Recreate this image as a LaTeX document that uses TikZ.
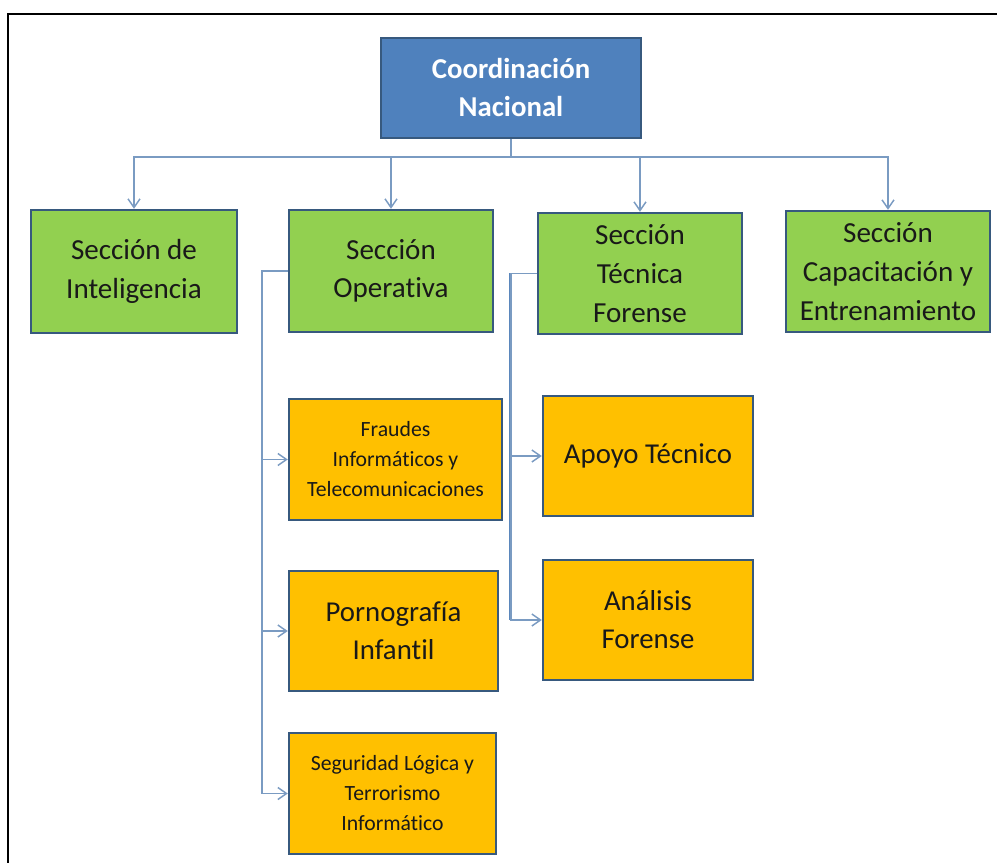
\documentclass[tikz,border=0pt]{standalone}
\usepackage{fontspec}
\setmainfont{Carlito}[Ligatures=NoCommon]
\usetikzlibrary{arrows.meta,calc}
\definecolor{cblue}{HTML}{4F81BD}
\definecolor{cbord}{HTML}{37597E}
\definecolor{cgreen}{HTML}{92D050}
\definecolor{corange}{HTML}{FFC000}
\definecolor{cline}{HTML}{7A9BC2}
\definecolor{ctrunk}{HTML}{5B87BC}
\tikzset{
  box/.style={draw=cbord, line width=1.8pt, rectangle, align=center, inner sep=0pt},
  topbox/.style={box, fill=cblue, text=white, font=\fontsize{21.6}{28.5}\selectfont\bfseries},
  secbox/.style={box, fill=cgreen, text=black!90, font=\fontsize{21.8}{29}\selectfont},
  subbox/.style={box, fill=corange, text=black!90, font=\fontsize{21.6}{28.5}\selectfont},
  smallbox/.style={box, fill=corange, text=black!90, font=\fontsize{16.3}{22.5}\selectfont},
  conn/.style={draw=cline, line width=1.1pt, -{Straight Barb[length=6.5pt,width=9pt]}},
  trunk/.style={draw=ctrunk, line width=2.2pt},
  frame/.style={draw=black, line width=2.2pt}
}
\begin{document}
\begin{tikzpicture}[x=0.75pt,y=-0.75pt]
\useasboundingbox (0,0) rectangle (997,863);
\draw[frame] (8,863) -- (8,14) -- (997,14);

\node[topbox, minimum width=195pt, minimum height=75pt] (coord) at (511,88) {Coordinación\\Nacional};

\node[secbox, minimum width=154.5pt, minimum height=92.25pt] (intel) at (134,271.5) {Sección de\\Inteligencia};
\node[secbox, minimum width=153pt, minimum height=91.5pt] (ope) at (391,271) {Sección\\Operativa};
\node[secbox, minimum width=153pt, minimum height=90.75pt] (tec) at (640,273.5) {Sección\\Técnica\\Forense};
\node[secbox, minimum width=153pt, minimum height=90.75pt] (cap) at (888,271.5) {Sección\\Capacitación y\\Entrenamiento};

\node[smallbox, minimum width=159.75pt, minimum height=90.75pt] (fraud) at (395.5,459.5) {Fraudes\\Informáticos y\\Telecomunicaciones};
\node[subbox, minimum width=156.75pt, minimum height=90pt] (porno) at (393.5,631) {Pornografía\\Infantil};
\node[smallbox, minimum width=155.25pt, minimum height=90.75pt] (segur) at (392.5,793.5) {Seguridad Lógica y\\Terrorismo\\Informático};
\node[subbox, minimum width=157.5pt, minimum height=90pt] (apoyo) at (648,456) {Apoyo Técnico};
\node[subbox, minimum width=157.5pt, minimum height=90pt] (anal) at (648,620) {Análisis\\Forense};

% top bus
\draw[conn] (coord.south) -- ++(0,18) -| (intel.north);
\draw[conn] (coord.south) -- ++(0,18) -| (ope.north);
\draw[conn] (coord.south) -- ++(0,18) -| (tec.north);
\draw[conn] (coord.south) -- ++(0,18) -| (cap.north);

% operativa branch
\draw[conn] (ope.west) -- ++(-26,0) |- (fraud.west);
\draw[conn] (ope.west) -- ++(-26,0) |- (porno.west);
\draw[conn] (ope.west) -- ++(-26,0) |- (segur.west);

% tecnica branch
\coordinate (tcorner) at ($(tec.west)+(-26,0)$);
\coordinate (tend) at (tcorner |- anal.west);
\draw[trunk] (tcorner) -- (tend);
\draw[conn] (tec.west) -- (tcorner) |- (apoyo.west);
\draw[conn] (tec.west) -- (tcorner) |- (anal.west);
\end{tikzpicture}
\end{document}
